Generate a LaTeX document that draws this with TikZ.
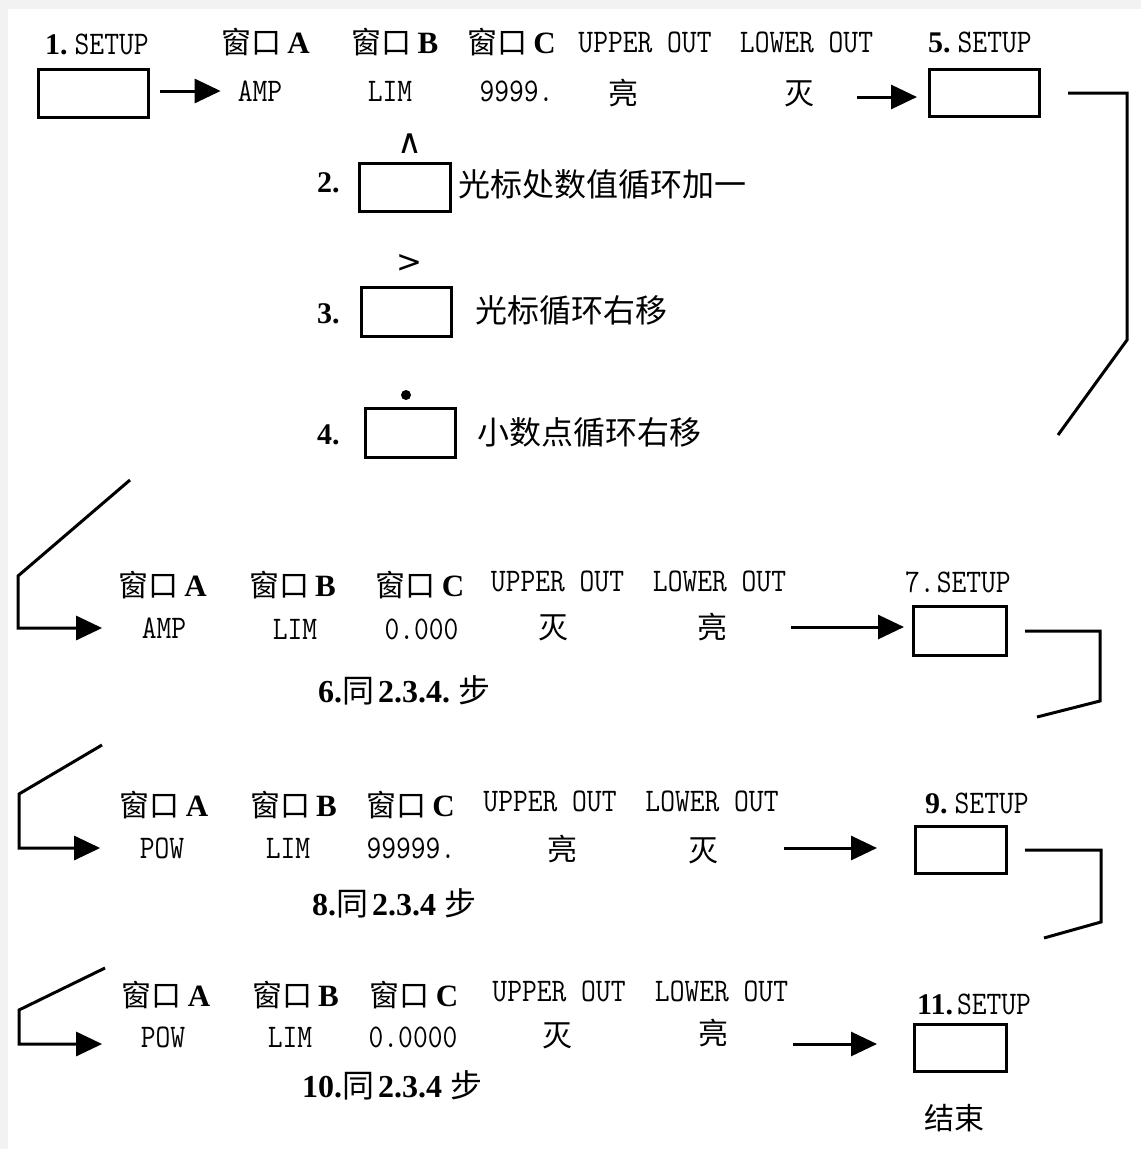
\documentclass[tikz,border=0pt]{standalone}
\usepackage{fontspec}
\usetikzlibrary{arrows.meta}
\newfontfamily\cjk{Noto Sans CJK SC}
\newfontfamily\nmono[FakeStretch=0.87]{Latin Modern Mono}
\newfontfamily\bser{Liberation Serif}
\newfontfamily\djv{DejaVu Sans}
\definecolor{edgegray}{HTML}{F2F2F2}
\newcommand{\winhdr}[1]{{\cjk\fontsize{30}{34}\selectfont 窗口}\hspace{6pt}{\bser\bfseries\fontsize{31}{34}\selectfont #1}}
\newcommand{\monotxt}[1]{{\nmono\fontsize{33}{36}\selectfont #1}}
\newcommand{\cjktxt}[1]{{\cjk\fontsize{30}{34}\selectfont #1}}
\newcommand{\bignote}[1]{{\cjk\fontsize{32}{36}\selectfont #1}}
\newcommand{\bnum}[1]{{\bser\bfseries\fontsize{30}{34}\selectfont #1}}
\newcommand{\stepnum}[1]{{\bser\bfseries\fontsize{32}{36}\selectfont #1}}
\tikzset{
  keybox/.style={draw, line width=3pt, inner sep=0pt},
  txt/.style={inner sep=0pt},
  link/.style={line width=3pt},
  arr/.style={line width=3pt, -{Triangle[length=26pt,width=24pt]}},
}
\begin{document}
\begin{tikzpicture}[x=1pt,y=-1pt]
\fill[edgegray] (0,0) rectangle (1141,1149);
\fill[white] (8,9) rectangle (1141,1149);
\useasboundingbox (0,0) rectangle (1141,1149);

% ---------- row 1 ----------
\node[txt, anchor=west] (l1) at (45,44) {\bnum{1.}\hspace{7pt}\monotxt{SETUP}};
\node[keybox, minimum width=110pt, minimum height=48pt] (k1) at (93.5,93.5) {};
\node[txt] (h1a) at (265.5,42) {\winhdr{A}};
\node[txt] (h1b) at (395,42) {\winhdr{B}};
\node[txt] (h1c) at (511.5,42) {\winhdr{C}};
\node[txt] (u1) at (645,42) {\monotxt{UPPER OUT}};
\node[txt] (w1) at (806.5,42) {\monotxt{LOWER OUT}};
\node[txt, anchor=west] (l5) at (928,42) {\bnum{5.}\hspace{7pt}\monotxt{SETUP}};
\node[keybox, minimum width=110pt, minimum height=47pt] (k5) at (984.5,93) {};
\node[txt] (v1a) at (260,91) {\monotxt{AMP}};
\node[txt] (v1b) at (390,91) {\monotxt{LIM}};
\node[txt] (v1c) at (516.5,91) {\monotxt{9999.}};
\node[txt] (v1u) at (623,93.5) {\cjktxt{亮}};
\node[txt] (v1w) at (799,94) {\cjktxt{灭}};
\draw[arr, shorten <=10pt, shorten >=17pt] (k1.east |- v1a.west) -- (v1a.west);
\coordinate (s1) at (857,97);
\draw[arr, shorten >=11pt] (s1) -- (s1 -| k5.west);
\coordinate (e5) at (1058,435);
\draw[link] ([xshift=27pt]k5.east) -| (1127,340) -- (e5);

% ---------- steps 2-4 ----------
\node[txt] (car2) at (409.5,143.5) {{\djv\fontsize{34}{38}\selectfont ∧}};
\node[keybox, minimum width=91pt, minimum height=48pt] (k2) at (405,187.5) {};
\node[txt, anchor=west] (n2) at (317,182.5) {\bnum{2.}};
\node[txt, anchor=west] (t2) at (458,184) {\bignote{光标处数值循环加一}};

\node[txt] (car3) at (409.5,263) {{\djv\fontsize{31}{34}\selectfont >}};
\node[keybox, minimum width=90pt, minimum height=49pt] (k3) at (406.5,312) {};
\node[txt, anchor=west] (n3) at (317,313.5) {\bnum{3.}};
\node[txt, anchor=west] (t3) at (475,310) {\bignote{光标循环右移}};

\node[circle, fill, inner sep=0pt, minimum size=10pt] (dot4) at (406,395) {};
\node[keybox, minimum width=90pt, minimum height=49pt] (k4) at (410.5,433) {};
\node[txt, anchor=west] (n4) at (317,435) {\bnum{4.}};
\node[txt, anchor=west] (t4) at (477,432) {\bignote{小数点循环右移}};

% ---------- row 6 ----------
\node[txt] (h6a) at (162.5,585) {\winhdr{A}};
\node[txt] (h6b) at (292.5,585) {\winhdr{B}};
\node[txt] (h6c) at (420,585) {\winhdr{C}};
\node[txt] (u6) at (557.5,581) {\monotxt{UPPER OUT}};
\node[txt] (w6) at (719.5,581) {\monotxt{LOWER OUT}};
\node[txt, anchor=west] (l7) at (905,582) {\monotxt{7.}\hspace{2pt}\monotxt{SETUP}};
\node[keybox, minimum width=93pt, minimum height=49pt] (k7) at (960,631) {};
\node[txt] (v6a) at (164,628) {\monotxt{AMP}};
\node[txt] (v6b) at (295,629) {\monotxt{LIM}};
\node[txt] (v6c) at (421.5,629) {\monotxt{0.000}};
\node[txt] (v6u) at (553,628) {\cjktxt{灭}};
\node[txt] (v6w) at (712,627) {\cjktxt{亮}};
\node[txt, anchor=west] (st6) at (318,690) {\stepnum{6.}\bignote{同}\hspace{4pt}\stepnum{2.3.4.}\hspace{8pt}\bignote{步}};
\coordinate (t6) at (130,480);
\draw[arr, shorten >=39.5pt] (t6) -- (18,576) |- (v6a.west);
\coordinate (s6) at (791,627);
\draw[arr, shorten >=8pt] (s6) -- (s6 -| k7.west);
\coordinate (e7) at (1037,717);
\draw[link] ([xshift=17pt]k7.east) -| (1100,701) -- (e7);

% ---------- row 8 ----------
\node[txt] (h8a) at (164,805) {\winhdr{A}};
\node[txt] (h8b) at (293.5,805) {\winhdr{B}};
\node[txt] (h8c) at (410.5,805) {\winhdr{C}};
\node[txt] (u8) at (550,801) {\monotxt{UPPER OUT}};
\node[txt] (w8) at (712,801) {\monotxt{LOWER OUT}};
\node[txt, anchor=west] (l9) at (925,803) {\bnum{9.}\hspace{7pt}\monotxt{SETUP}};
\node[keybox, minimum width=91pt, minimum height=47pt] (k9) at (961,850) {};
\node[txt] (v8a) at (162,848) {\monotxt{POW}};
\node[txt] (v8b) at (288,848) {\monotxt{LIM}};
\node[txt] (v8c) at (411,848) {\monotxt{99999.}};
\node[txt] (v8u) at (562,849) {\cjktxt{亮}};
\node[txt] (v8w) at (703,851) {\cjktxt{灭}};
\node[txt, anchor=west] (st8) at (312,903) {\stepnum{8.}\bignote{同}\hspace{4pt}\stepnum{2.3.4}\hspace{8pt}\bignote{步}};
\coordinate (t8) at (102,745);
\draw[arr, shorten >=39.5pt] (t8) -- (19,794) |- (v8a.west);
\coordinate (s8) at (784,848);
\draw[arr, shorten >=37pt] (s8) -- (s8 -| k9.west);
\coordinate (e9) at (1044,938);
\draw[link] ([xshift=17pt]k9.east) -| (1101,922) -- (e9);

% ---------- row 10 ----------
\node[txt] (h10a) at (166,995) {\winhdr{A}};
\node[txt] (h10b) at (295.5,995) {\winhdr{B}};
\node[txt] (h10c) at (414,995) {\winhdr{C}};
\node[txt] (u10) at (559,991) {\monotxt{UPPER OUT}};
\node[txt] (w10) at (721.5,991) {\monotxt{LOWER OUT}};
\node[txt, anchor=west] (l11) at (917,1004) {\bnum{11.}\hspace{4pt}\monotxt{SETUP}};
\node[keybox, minimum width=92pt, minimum height=47pt] (k11) at (960.5,1048) {};
\node[txt] (v10a) at (163,1037) {\monotxt{POW}};
\node[txt] (v10b) at (290,1037) {\monotxt{LIM}};
\node[txt] (v10c) at (413,1037) {\monotxt{0.0000}};
\node[txt] (v10u) at (557,1036) {\cjktxt{灭}};
\node[txt] (v10w) at (713,1033) {\cjktxt{亮}};
\node[txt, anchor=west] (st10) at (302,1085) {\stepnum{10.}\bignote{同}\hspace{4pt}\stepnum{2.3.4}\hspace{8pt}\bignote{步}};
\node[txt] (end) at (954,1118) {\cjktxt{结束}};
\coordinate (t10) at (105,968);
\draw[arr, shorten >=38.5pt] (t10) -- (19,1010) |- ([yshift=-7pt]v10a.west);
\coordinate (s10) at (793,1044);
\draw[arr, shorten >=36pt] (s10) -- (s10 -| k11.west);
\end{tikzpicture}
\end{document}
